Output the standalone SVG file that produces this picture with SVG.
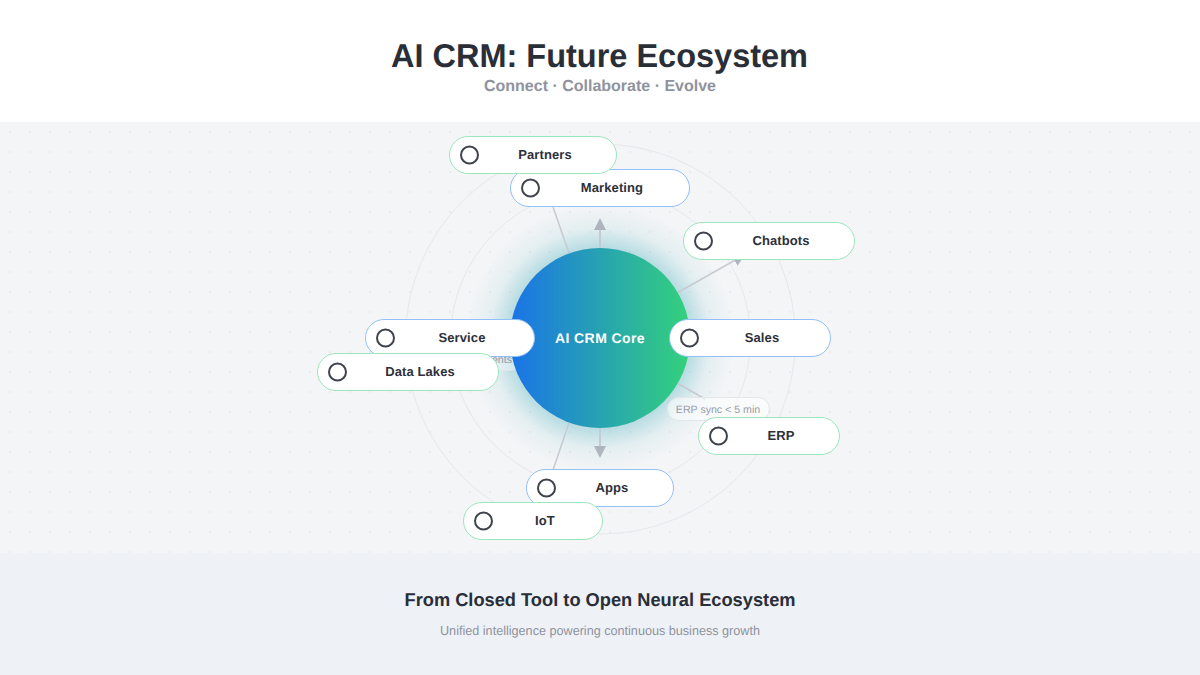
<svg xmlns="http://www.w3.org/2000/svg" width="1200" height="675" viewBox="0 0 1200 675">
<style>
text{font-family:"Liberation Sans",Arial,sans-serif;text-rendering:geometricPrecision}
.pill{fill:#fff;stroke-width:1}
.b{stroke:#93c0f8}.g{stroke:#9ce6bd}
.ic{fill:none;stroke:#3f434c;stroke-width:2}
.lb{font-size:13px;font-weight:700;fill:#2d3039;text-anchor:middle;letter-spacing:.1px}
.ring{fill:none;stroke:#e6e8eb;stroke-width:1}
.con{stroke:#c6cad2;stroke-width:1.500;fill:none}
.v{stroke-width:2}
</style>
<defs>
<pattern id="dots" x="0" y="122" width="20" height="20" patternUnits="userSpaceOnUse"><circle cx="10" cy="10" r="1" fill="#e8e9ec"/></pattern>
<linearGradient id="core" x1="0" y1="0" x2="1" y2="0"><stop offset="0" stop-color="#1a73e8"/><stop offset="1" stop-color="#34d27b"/></linearGradient>
<radialGradient id="glow" gradientUnits="userSpaceOnUse" cx="600" cy="338" r="135"><stop offset="0.667" stop-color="#2aa3b0" stop-opacity="0.3"/><stop offset="0.82" stop-color="#2aa3b0" stop-opacity="0.08"/><stop offset="1" stop-color="#2aa3b0" stop-opacity="0"/></radialGradient>
<marker id="ah" viewBox="0 0 12 12" refX="10" refY="6" markerWidth="12" markerHeight="12" orient="auto" markerUnits="userSpaceOnUse"><path d="M0 0L12 6L0 12Z" fill="#aeb5bf"/></marker>
</defs>
<rect width="1200" height="675" fill="#fff"/>
<rect y="122" width="1200" height="431" fill="#f4f5f7"/>
<rect y="122" width="1200" height="431" fill="url(#dots)"/>
<rect y="553" width="1200" height="122" fill="#eef1f6"/>
<text x="391" y="66.500" font-size="33" font-weight="700" fill="#2a2e37" textLength="417" lengthAdjust="spacingAndGlyphs">AI CRM: Future Ecosystem</text>
<text x="600" y="91" font-size="16" font-weight="700" fill="#8f939e" text-anchor="middle">Connect · Collaborate · Evolve</text>
<circle class="ring" cx="600.500" cy="339" r="195"/>
<circle class="ring" cx="600.500" cy="339" r="150"/>
<circle cx="600" cy="338" r="135" fill="url(#glow)"/>
<g id="connectors">
<line class="con v" x1="600" y1="248" x2="600" y2="220" marker-end="url(#ah)"/>
<line class="con v" x1="600" y1="428" x2="600" y2="456" marker-end="url(#ah)"/>
<line class="con" x1="569" y1="253" x2="553" y2="207"/>
<line class="con" x1="569" y1="423" x2="553" y2="470"/>
<line class="con" x1="677" y1="293" x2="743.300" y2="255.500" marker-end="url(#ah)"/>
<line class="con" x1="677" y1="383" x2="705" y2="399"/>
</g>
<g id="label-left"><rect x="430.500" y="348.500" width="90" height="22" rx="11" fill="#fff" fill-opacity="0.35" stroke="#e4e6ea"/><text x="512" y="363" font-size="10.600" fill="#9297a2" text-anchor="end">Events</text></g>
<g id="core"><circle cx="600" cy="338" r="90" fill="url(#core)"/><text x="600" y="343" font-size="14" font-weight="700" fill="#fff" text-anchor="middle" letter-spacing="0.4">AI CRM Core</text></g>
<g id="label-erp"><rect x="667.500" y="397.500" width="102" height="23" rx="11.500" fill="#fff" fill-opacity="0.55" stroke="#e4e6ea"/><text x="718" y="413" font-size="10.600" fill="#979ca7" text-anchor="middle">ERP sync &lt; 5 min</text></g>
<g id="apps"><rect class="pill b" x="526.500" y="469.500" width="147" height="37" rx="18.500"/><circle class="ic" cx="546.500" cy="488" r="8.500"/><text class="lb" x="612" y="492">Apps</text></g>
<g id="iot"><rect class="pill g" x="463.500" y="502.500" width="139" height="37" rx="18.500"/><circle class="ic" cx="483.500" cy="521" r="8.500"/><text class="lb" x="545" y="525">IoT</text></g>
<g id="marketing"><rect class="pill b" x="510.500" y="169.500" width="179" height="37" rx="18.500"/><circle class="ic" cx="530.500" cy="188" r="8.500"/><text class="lb" x="612" y="192">Marketing</text></g>
<g id="partners"><rect class="pill g" x="449.500" y="136.500" width="167" height="37" rx="18.500"/><circle class="ic" cx="469.500" cy="155" r="8.500"/><text class="lb" x="545" y="159">Partners</text></g>
<g id="chatbots"><rect class="pill g" x="683.500" y="222.500" width="171" height="37" rx="18.500"/><circle class="ic" cx="703.500" cy="241" r="8.500"/><text class="lb" x="781" y="245">Chatbots</text></g>
<g id="sales"><rect class="pill b" x="669.500" y="319.500" width="161" height="37" rx="18.500"/><circle class="ic" cx="689.500" cy="338" r="8.500"/><text class="lb" x="762" y="342">Sales</text></g>
<g id="erp"><rect class="pill g" x="698.500" y="417.500" width="141" height="37" rx="18.500"/><circle class="ic" cx="718.500" cy="436" r="8.500"/><text class="lb" x="781" y="440">ERP</text></g>
<g id="service"><rect class="pill b" x="365.500" y="319.500" width="169" height="37" rx="18.500"/><circle class="ic" cx="385.500" cy="338" r="8.500"/><text class="lb" x="462" y="342">Service</text></g>
<g id="data-lakes"><rect class="pill g" x="317.500" y="353.500" width="181" height="37" rx="18.500"/><circle class="ic" cx="337.500" cy="372" r="8.500"/><text class="lb" x="420" y="376">Data Lakes</text></g>
<text x="404.500" y="606" font-size="18.500" font-weight="700" fill="#2a2e37" textLength="391" lengthAdjust="spacingAndGlyphs">From Closed Tool to Open Neural Ecosystem</text>
<text x="440" y="635" font-size="13" fill="#8f939e" textLength="320" lengthAdjust="spacingAndGlyphs">Unified intelligence powering continuous business growth</text>
</svg>
